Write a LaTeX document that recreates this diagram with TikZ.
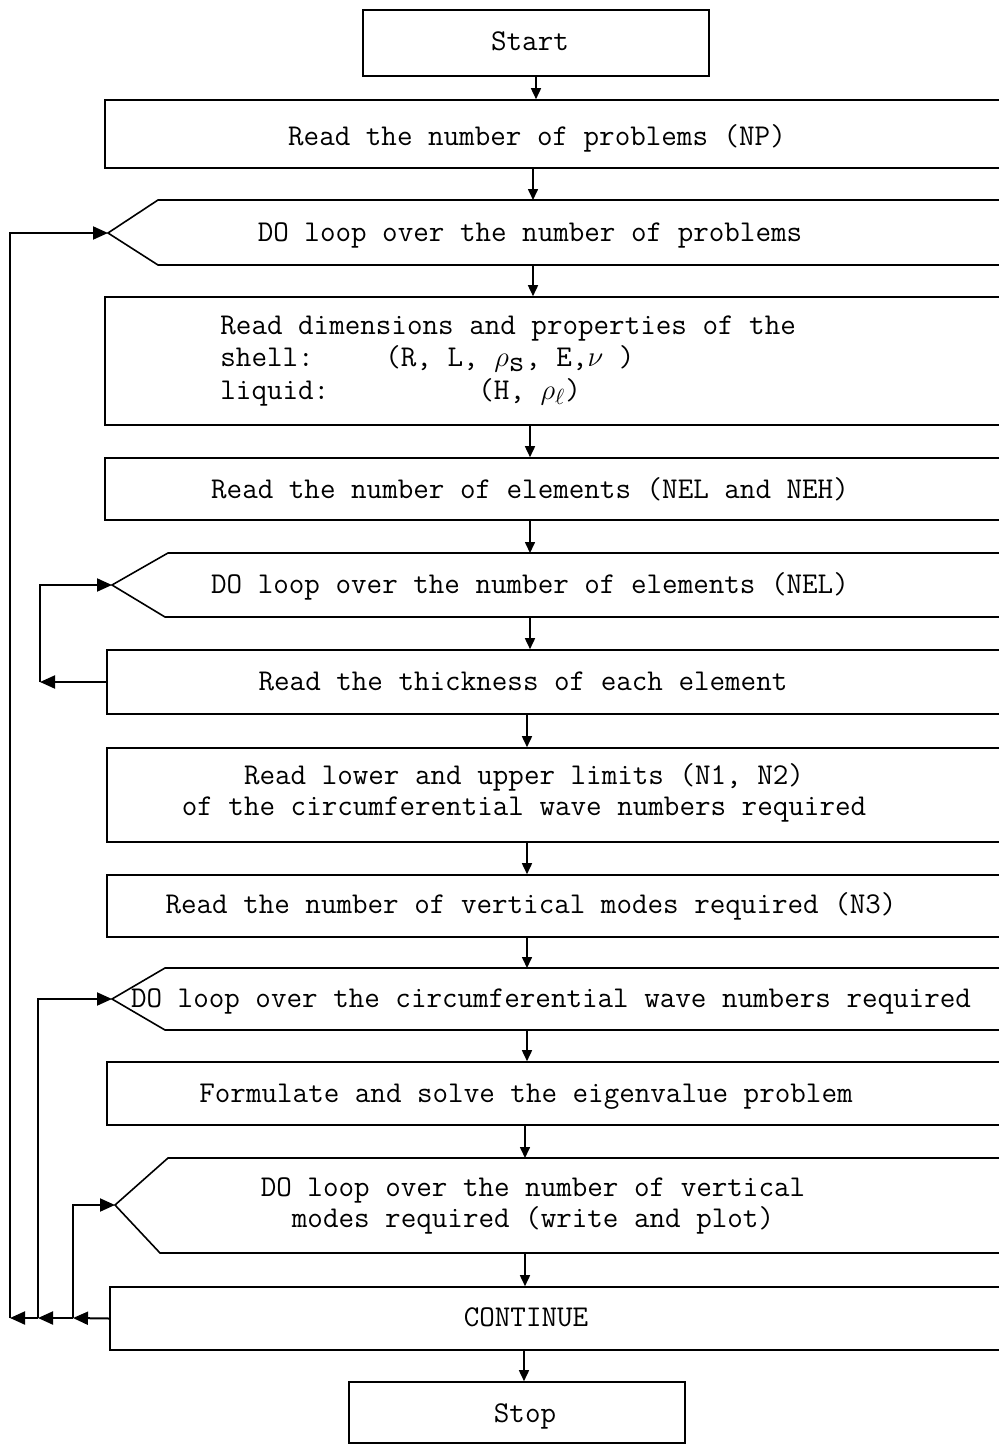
\documentclass[tikz,border=0pt]{standalone}
\usepackage{fontspec}
\usetikzlibrary{arrows.meta,fit}
\begin{document}
\begin{tikzpicture}[x=0.5pt,y=-0.5pt,
  line/.style={line width=0.8pt},
  box/.style={draw, line width=0.8pt, inner sep=0pt},
  txt/.style={font=\fontsize{15.1}{15.7}\selectfont\ttfamily, inner sep=0pt, anchor=base},
  mtxt/.style={font=\fontsize{15.1}{15.7}\selectfont\ttfamily, inner sep=0pt, align=center},
  arr/.style={line width=0.8pt, -{Triangle[length=5.5pt,width=5pt]}},
  larr/.style={line width=1pt, -{Triangle[length=7.5pt,width=6.5pt]}}]
\useasboundingbox (0,0) rectangle (999,1445);
\clip (0,0) rectangle (999,1445);

% boxes
\node[box, fit={(363,10) (709,76)}] (start) {};
\node[txt] (startt) at (530,51) {Start};

\node[box, fit={(105,100) (1015,168)}] (np) {};
\node[txt] (npt) at (537,146) {Read the number of problems (NP)};

\coordinate (do1tip) at (108,233);
\coordinate (do1n) at (533,200);
\coordinate (do1s) at (533,265);
\draw[line] (1015,200) -- (158,200) -- (do1tip) -- (158,265) -- (1015,265);
\node[txt] (do1t) at (530,241) {DO loop over the number of problems};

\node[box, fit={(105,297) (1015,425)}] (dims) {};
\node[font=\fontsize{15.1}{16.25}\selectfont\ttfamily, inner sep=0pt, align=left, anchor=west] (dimst) at (220,361)
 {Read dimensions and properties of the\\
  \makebox[82.5pt][l]{shell:}(R, L, $\rho_{\texttt{s}}$, E,$\nu$ )\\
  \makebox[129pt][l]{liquid:}(H, $\rho_{\ell}$)};

\node[box, fit={(105,458) (1015,520)}] (nel) {};
\node[txt] (nelt) at (530,498) {Read the number of elements (NEL and NEH)};

\coordinate (do2tip) at (112,585);
\coordinate (do2n) at (530,553);
\coordinate (do2s) at (530,617);
\draw[line] (1015,553) -- (168,553) -- (do2tip) -- (165,617) -- (1015,617);
\node[txt] (do2t) at (530,593) {DO loop over the number of elements (NEL)};

\node[box, fit={(107,650) (1015,714)}] (thick) {};
\node[txt] (thickt) at (523,690) {Read the thickness of each element};

\node[box, fit={(107,748) (1015,842)}] (lim) {};
\node[mtxt] (limt) at (524,793) {Read lower and upper limits (N1, N2)\\of the circumferential wave numbers required};

\node[box, fit={(107,875) (1015,937)}] (n3) {};
\node[txt] (n3t) at (531,913) {Read the number of vertical modes required (N3)};

\coordinate (do3tip) at (112,999);
\coordinate (do3n) at (527,968);
\coordinate (do3s) at (527,1030);
\draw[line] (1015,968) -- (165,968) -- (do3tip) -- (165,1030) -- (1015,1030);
\node[txt] (do3t) at (551,1007) {DO loop over the circumferential wave numbers required};

\node[box, fit={(107,1062) (1015,1125)}] (form) {};
\node[txt] (formt) at (526,1102) {Formulate and solve the eigenvalue problem};

\coordinate (do4tip) at (115,1205);
\coordinate (do4n) at (525,1158);
\coordinate (do4s) at (525,1253);
\draw[line] (1015,1158) -- (168,1158) -- (do4tip) -- (160,1253) -- (1015,1253);
\node[mtxt] (do4t) at (533,1206) {DO loop over the number of vertical\\modes required (write and plot)};

\node[box, fit={(110,1287) (1015,1350)}] (cont) {};
\node[txt] (contt) at (526,1326) {CONTINUE};

\node[box, fit={(349,1382) (685,1443)}] (stop) {};
\node[txt] (stopt) at (525,1422) {Stop};

% main flow arrows
\coordinate (ax1) at (535,0);
\coordinate (ax2) at (530,0);
\coordinate (ax3) at (527,0);
\coordinate (ax4) at (524,0);
\draw[arr] (start.south) -- (start.south |- np.north);
\draw[arr] (np.south -| do1n) -- (do1n);
\draw[arr] (do1s) -- (do1s |- dims.north);
\draw[arr] (dims.south -| ax2) -- (ax2 |- nel.north);
\draw[arr] (nel.south -| do2n) -- (do2n);
\draw[arr] (do2s) -- (do2s |- thick.north);
\draw[arr] (thick.south -| ax3) -- (ax3 |- lim.north);
\draw[arr] (lim.south -| ax3) -- (ax3 |- n3.north);
\draw[arr] (n3.south -| do3n) -- (do3n);
\draw[arr] (do3s) -- (do3s |- form.north);
\draw[arr] (form.south -| do4n) -- (do4n);
\draw[arr] (do4s) -- (do4s |- cont.north);
\draw[arr] (cont.south -| ax4) -- (ax4 |- stop.north);

% loop returns
\coordinate (c4) at (73,1318);
\coordinate (c3) at (38,1318);
\coordinate (c1) at (10,1318);
\coordinate (c2) at (40,682);
\draw[larr] (cont.west) -- (c4);
\draw[larr] (c4) -- (c3);
\draw[larr] (c3) -- (c1);
\draw[larr] (c1) |- (do1tip);
\draw[larr] (c3) |- (do3tip);
\draw[larr] (c4) |- (do4tip);
\draw[larr] (thick.west) -- (c2);
\draw[larr] (c2) |- (do2tip);
\end{tikzpicture}
\end{document}
